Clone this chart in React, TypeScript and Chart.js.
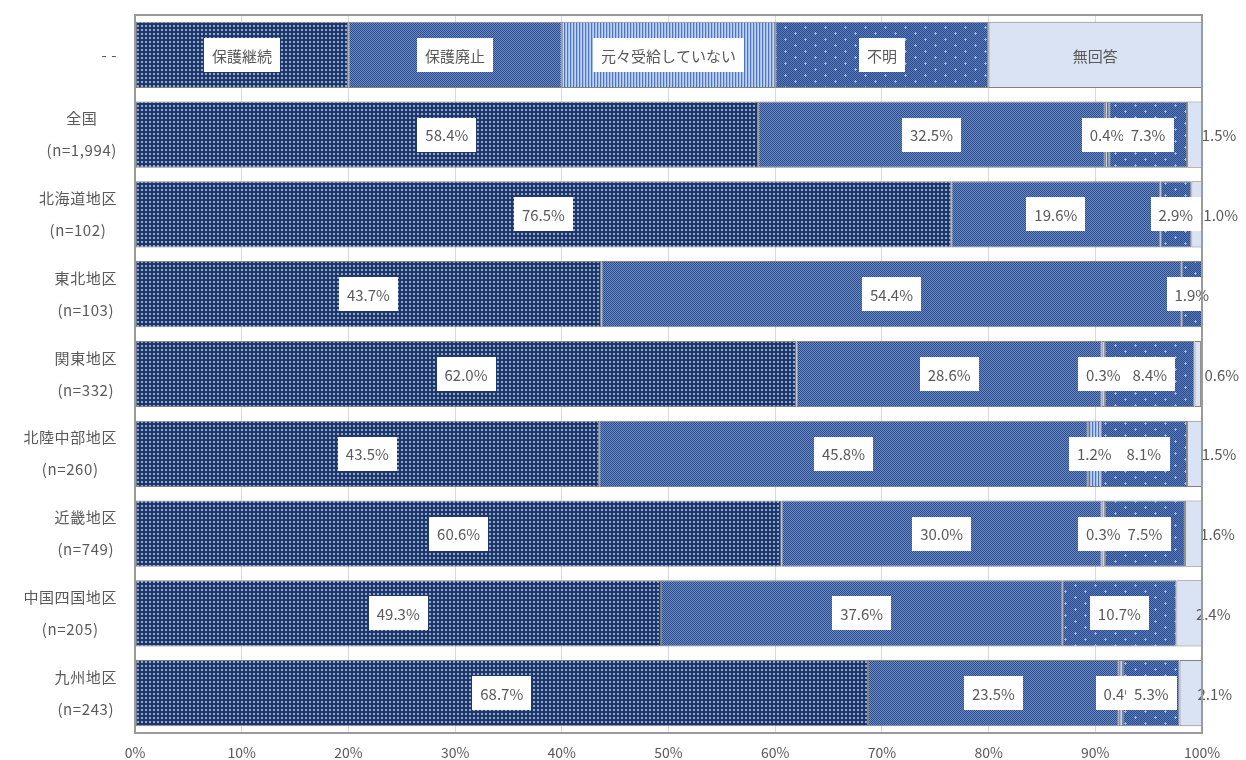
import React, { useEffect, useRef } from "react";
import { Chart, registerables } from "chart.js";

Chart.register(...registerables);

const categories: string[][] = [
  ["- -"],
  ["全国", "(n=1,994)"],
  ["北海道地区", "(n=102)"],
  ["東北地区", "(n=103)"],
  ["関東地区", "(n=332)"],
  ["北陸中部地区", "(n=260)"],
  ["近畿地区", "(n=749)"],
  ["中国四国地区", "(n=205)"],
  ["九州地区", "(n=243)"],
];
const seriesNames = ["保護継続", "保護廃止", "元々受給していない", "不明", "無回答"];
const continued = [20, 58.4, 76.5, 43.7, 62.0, 43.5, 60.6, 49.3, 68.7];
const abolished = [20, 32.5, 19.6, 54.4, 28.6, 45.8, 30.0, 37.6, 23.5];
const neverReceived = [20, 0.4, 0, 0, 0.3, 1.2, 0.3, 0, 0.4];
const unknown = [20, 7.3, 2.9, 1.9, 8.4, 8.1, 7.5, 10.7, 5.3];
const noAnswer = [20, 1.5, 1.0, 0, 0.6, 1.5, 1.6, 2.4, 2.1];
const tickValues = [0, 10, 20, 30, 40, 50, 60, 70, 80, 90, 100];

const FONT = '"Noto Sans CJK JP", "Noto Sans", sans-serif';
const TEXT = "#595959";

function makePattern(w: number, h: number, draw: (g: CanvasRenderingContext2D) => void) {
  const c = document.createElement("canvas");
  c.width = w;
  c.height = h;
  const g = c.getContext("2d")!;
  draw(g);
  return g.createPattern(c, "repeat")!;
}

function buildPatterns() {
  const p1 = makePattern(4, 4, (g) => {
    g.fillStyle = "#1f3868";
    g.fillRect(0, 0, 4, 4);
    g.fillStyle = "#8ea8d8";
    g.fillRect(1, 1, 2, 2);
  });
  const p2 = makePattern(2, 2, (g) => {
    g.fillStyle = "#2c4b8a";
    g.fillRect(0, 0, 2, 2);
    g.fillStyle = "#6d8cc6";
    g.fillRect(1, 0, 1, 1);
    g.fillRect(0, 1, 1, 1);
  });
  const p3 = makePattern(3, 3, (g) => {
    g.fillStyle = "#a3bbe6";
    g.fillRect(0, 0, 3, 3);
    g.fillStyle = "#4a76c6";
    g.fillRect(0, 0, 1, 3);
    g.fillStyle = "#c2d3f0";
    g.fillRect(2, 0, 1, 3);
  });
  const p4 = makePattern(20, 12, (g) => {
    for (let y = 0; y < 12; y++) {
      for (let x = 0; x < 20; x++) {
        g.fillStyle = (x + y) % 2 === 0 ? "#2b4b8b" : "#5a7cbd";
        g.fillRect(x, y, 1, 1);
      }
    }
    g.fillStyle = "#9fb8e6";
    const plus = (cx: number, cy: number) => {
      g.fillRect(cx - 1, cy, 3, 1);
      g.fillRect(cx, cy - 1, 1, 3);
    };
    plus(5, 3);
    plus(15, 9);
  });
  return [p1, p2, p3, p4, "#dae3f3"];
}

const labelPlugin = {
  id: "segLabels",
  afterDatasetsDraw(chart: any) {
    const ctx: CanvasRenderingContext2D = chart.ctx;
    ctx.save();
    ctx.font = `15px ${FONT}`;
    ctx.textBaseline = "middle";
    ctx.textAlign = "center";
    chart.data.datasets.forEach((ds: any, di: number) => {
      const meta = chart.getDatasetMeta(di);
      meta.data.forEach((el: any, i: number) => {
        const v = ds.data[i];
        if (!v) return;
        const text = i === 0 ? ds.label : v.toFixed(1) + "%";
        const props = el.getProps(["x", "y", "base"], true);
        let cx = (props.x + props.base) / 2;
        const cy = props.y;
        const tw = ctx.measureText(text).width;
        if (di === 4) {
          if (i > 0) cx += 24;
        } else {
          ctx.fillStyle = "#ffffff";
          ctx.fillRect(Math.round(cx - tw / 2 - 8), Math.round(cy - 17), Math.round(tw + 16), 34);
        }
        ctx.fillStyle = TEXT;
        ctx.fillText(text, cx, cy + 1);
      });
    });
    ctx.restore();
  },
  afterDraw(chart: any) {
    const ctx: CanvasRenderingContext2D = chart.ctx;
    const a = chart.chartArea;
    ctx.save();
    ctx.strokeStyle = "#9a9a9a";
    ctx.lineWidth = 2;
    ctx.strokeRect(a.left, a.top, a.right - a.left, a.bottom - a.top);
    // category labels
    const ys = chart.scales.y;
    ctx.font = `15px ${FONT}`;
    (ctx as any).letterSpacing = "0.6px";
    ctx.fillStyle = TEXT;
    ctx.textBaseline = "middle";
    ctx.textAlign = "center";
    const rightEdge = a.left - 18;
    const lh = 32;
    categories.forEach((lines, i) => {
      const cy = ys.getPixelForValue(i);
      const widest = Math.max(...lines.map((l) => ctx.measureText(l).width));
      const cx = rightEdge - widest / 2;
      const startY = cy - ((lines.length - 1) * lh) / 2;
      lines.forEach((l, k) => ctx.fillText(l, cx, startY + k * lh));
    });
    ctx.restore();
  },
};

export default function App() {
  const ref = useRef<HTMLCanvasElement>(null);
  useEffect(() => {
    const pats = buildPatterns();
    const series = [continued, abolished, neverReceived, unknown, noAnswer];
    const chart = new Chart(ref.current!, {
      type: "bar",
      data: {
        labels: categories.map((c) => c.join(" ")),
        datasets: series.map((d, k) => ({
          label: seriesNames[k],
          data: d,
          backgroundColor: pats[k] as any,
          borderColor: "#808080",
          borderWidth: 1,
          borderSkipped: false,
          barPercentage: 0.83,
          categoryPercentage: 1,
        })),
      },
      options: {
        indexAxis: "y",
        animation: false,
        responsive: true,
        maintainAspectRatio: false,
        layout: { padding: { top: 15, right: 44, left: 0, bottom: 0 } },
        plugins: { legend: { display: false }, tooltip: { enabled: false } },
        scales: {
          x: {
            stacked: true,
            min: 0,
            max: 100,
            afterFit: (s: any) => {
              s.height = 27;
            },
            afterBuildTicks: (s: any) => {
              s.ticks = tickValues.map((v) => ({ value: v }));
            },
            grid: { color: "#d9d9d9", lineWidth: 1, drawTicks: false },
            border: { display: false },
            ticks: {
              padding: 11,
              color: TEXT,
              font: { family: FONT, size: 14 },
              callback: (v: any) => v + "%",
              maxRotation: 0,
            },
          },
          y: {
            stacked: true,
            afterFit: (s: any) => {
              s.width = 135;
            },
            grid: { display: false },
            border: { display: false },
            ticks: { display: false },
          },
        },
      },
      plugins: [labelPlugin],
    });
    return () => chart.destroy();
  }, []);
  return (
    <div style={{ position: "fixed", left: 0, top: 0, width: 1246, height: 760, background: "#fff" }}>
      <canvas ref={ref} />
    </div>
  );
}
